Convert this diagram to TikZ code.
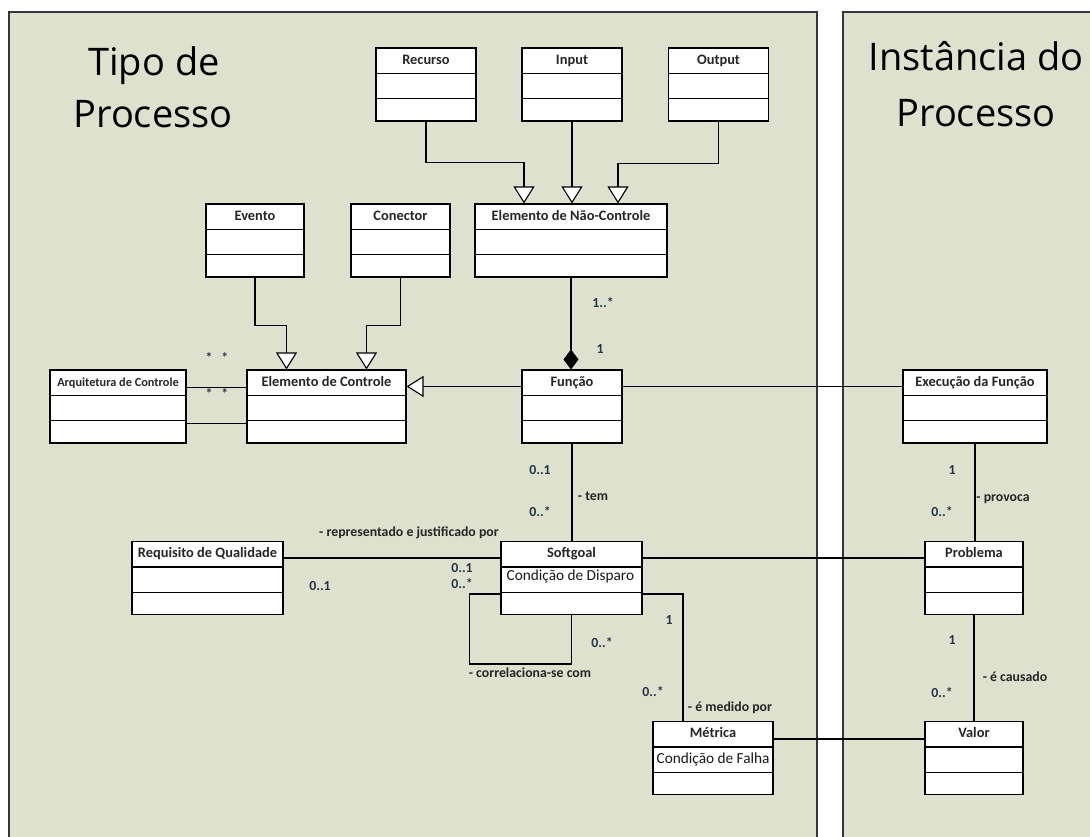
\documentclass[tikz,border=0pt]{standalone}
\usepackage{fontspec}
\setmainfont{Carlito}
\newfontfamily\titlefont{Open Sans}
\usetikzlibrary{arrows.meta}
\definecolor{panelbg}{RGB}{221,225,205}
\definecolor{panelline}{RGB}{55,55,55}
\definecolor{multcol}{RGB}{40,50,75}
\tikzset{
	panel/.style={draw=panelline,fill=panelbg,line width=1.2pt},
	titletext/.style={font=\titlefont\fontsize{38}{40}\selectfont,inner sep=0pt,anchor=base},
	classbox/.style={draw,fill=white,line width=1.1pt,inner sep=0pt,minimum height=73pt},
	classname/.style={font=\bfseries\fontsize{14.4}{16}\selectfont,text=black!85,inner sep=0pt,anchor=base},
	attrtext/.style={font=\fontsize{15.3}{17}\selectfont,text=black!90,inner sep=0pt,anchor=base west},
	assoc/.style={line width=1.1pt},
	gener/.style={line width=1.1pt,-{Triangle[open,length=17pt,width=21pt,fill=white]}},
	compo/.style={line width=1.1pt,-{Diamond[length=20pt,width=15pt]}},
	role/.style={font=\bfseries\fontsize{13.8}{15}\selectfont,text=black!85,inner sep=0pt},
	mult/.style={font=\bfseries\fontsize{13.8}{15}\selectfont,text=multcol,inner sep=0pt}
}
\begin{document}
\begin{tikzpicture}[x=1pt,y=-1pt]
	\useasboundingbox (0,0) rectangle (1090,836);
	\draw[panel] (9,12) rectangle (817,850);
	\draw[panel] (843,12) rectangle (1100,850);

	\node[titletext] (tit1) at (154,75) {Tipo de};
	\node[titletext] (tit2) at (153,127) {Processo};
	\node[titletext] (tit3) at (976,70) {Instância do};
	\node[titletext] (tit4) at (976,126) {Processo};

	\node[classbox,minimum width=100pt] (recurso) at (426,84.5) {};
	\node[classbox,minimum width=100pt] (input) at (572,84.5) {};
	\node[classbox,minimum width=100pt] (output) at (718.5,84.5) {};
	\node[classbox,minimum width=192pt] (naoctrl) at (571,240.5) {};
	\node[classbox,minimum width=98pt] (evento) at (255,240.5) {};
	\node[classbox,minimum width=99pt] (conector) at (400.5,240.5) {};
	\node[classbox,minimum width=136pt] (arquitetura) at (118,406.5) {};
	\node[classbox,minimum width=159pt] (elemctrl) at (326.5,406.5) {};
	\node[classbox,minimum width=100pt] (funcao) at (572,406.5) {};
	\node[classbox,minimum width=144pt] (execucao) at (975,406.5) {};
	\node[classbox,minimum width=151pt] (requisito) at (207.5,578) {};
	\node[classbox,minimum width=141pt] (softgoal) at (571.5,578) {};
	\node[classbox,minimum width=98pt] (problema) at (974,578) {};
	\node[classbox,minimum width=120pt] (metrica) at (713,758) {};
	\node[classbox,minimum width=98pt] (valor) at (974,758) {};

	\foreach \c in {recurso,input,output,naoctrl,evento,conector,arquitetura,elemctrl,funcao,execucao,requisito,softgoal,problema,metrica,valor}
		\draw[line width=1.1pt] ([yshift=-26pt]\c.north west) -- ([yshift=-26pt]\c.north east)
			([yshift=23pt]\c.south west) -- ([yshift=23pt]\c.south east);

	\foreach \c/\t in {recurso/Recurso,input/Input,output/Output,naoctrl/Elemento de Não-Controle,evento/Evento,conector/Conector,elemctrl/Elemento de Controle,funcao/Função,execucao/Execução da Função,requisito/Requisito de Qualidade,softgoal/Softgoal,problema/Problema,metrica/Métrica,valor/Valor}
		\node[classname] (\c-n) at ([yshift=-17pt]\c.north) {\t};
	\node[classname,font=\bfseries\fontsize{12.3}{14}\selectfont] (arquitetura-n) at ([yshift=-17pt]arquitetura.north) {Arquitetura de Controle};
	\node[attrtext] (softgoal-a) at ([xshift=6pt,yshift=-40pt]softgoal.north west) {Condição de Disparo};
	\node[attrtext] (metrica-a) at ([xshift=4pt,yshift=-43pt]metrica.north west) {Condição de Falha};

	\draw[gener] (recurso.south) -- ++(0,41) -| ([xshift=-47pt]naoctrl.north);
	\draw[gener] (input.south) -- (input.south |- naoctrl.north);
	\draw[gener] (output.south) -- ++(0,42) -| ([xshift=47pt]naoctrl.north);
	\draw[gener] (evento.south) -- ++(0,48) -| ([xshift=-40pt]elemctrl.north);
	\draw[gener] (conector.south) -- ++(0,48) -| ([xshift=40pt]elemctrl.north);
	\draw[gener] ([yshift=-17pt]funcao.north west) -- ([yshift=-17pt]elemctrl.north east);
	\draw[compo] (naoctrl.south) -- (naoctrl.south |- funcao.north);

	\draw[assoc] ([yshift=-18pt]arquitetura.north east) -- ([yshift=-18pt]elemctrl.north west);
	\draw[assoc] ([yshift=-54pt]arquitetura.north east) -- ([yshift=-54pt]elemctrl.north west);
	\draw[assoc] ([yshift=-17pt]funcao.north east) -- ([yshift=-17pt]execucao.north west);
	\draw[assoc] (funcao.south) -- (funcao.south |- softgoal.north);
	\draw[assoc] ([yshift=-17pt]softgoal.north west) -- ([yshift=-17pt]requisito.north east);
	\draw[assoc] ([yshift=-17pt]softgoal.north east) -- ([yshift=-17pt]problema.north west);
	\draw[assoc] ([yshift=-53pt]softgoal.north west) -- ++(-31,0) -- ++(0,70) -| (softgoal.south);
	\draw[assoc] ([yshift=-53pt]softgoal.north east) -| ([xshift=-30pt]metrica.north);
	\draw[assoc] ([yshift=-18pt]metrica.north east) -- ([yshift=-18pt]valor.north west);
	\draw[assoc] (execucao.south) -- (execucao.south |- problema.north);
	\draw[assoc] (problema.south) -- (problema.south |- valor.north);

	\node[mult] (m1) at (603,303) {1..*};
	\node[mult] (m2) at (600,349) {1};
	\node[mult] (m3) at (217,358) {*\hspace{9pt}*};
	\node[mult] (m4) at (217,394) {*\hspace{9pt}*};
	\node[mult] (m5) at (540,470) {0..1};
	\node[role] (r1) at (593,496) {- tem};
	\node[mult] (m6) at (540,512) {0..*};
	\node[role] (r2) at (409,533) {- representado e justificado por};
	\node[mult] (m7) at (320,586) {0..1};
	\node[mult] (m8) at (462,568) {0..1};
	\node[mult] (m9) at (462,584) {0..*};
	\node[role] (r3) at (530,673) {- correlaciona-se com};
	\node[mult] (m10) at (602,643) {0..*};
	\node[mult] (m11) at (669,620) {1};
	\node[mult] (m12) at (653,692) {0..*};
	\node[role] (r4) at (730,708) {- é medido por};
	\node[mult] (m13) at (952,470) {1};
	\node[role] (r5) at (1003,499) {- provoca};
	\node[mult] (m14) at (942,512) {0..*};
	\node[mult] (m15) at (952,640) {1};
	\node[role] (r6) at (1015,677) {- é causado};
	\node[mult] (m16) at (942,693) {0..*};
\end{tikzpicture}
\end{document}
